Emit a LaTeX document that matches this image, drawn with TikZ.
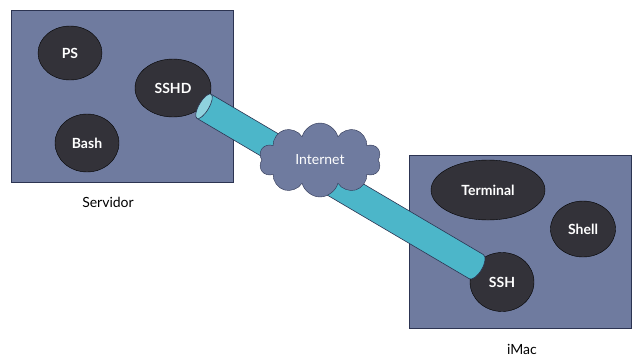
\documentclass[tikz,border=0pt]{standalone}
\usepackage{fontspec}
\setmainfont{Lato}
\usetikzlibrary{shapes}
\definecolor{hostblue}{RGB}{111,123,159}
\definecolor{procgray}{RGB}{51,50,57}
\definecolor{tubecyan}{RGB}{76,182,201}
\definecolor{tubecap}{RGB}{143,210,222}
\definecolor{edgenavy}{RGB}{44,52,82}

\begin{document}
\begin{tikzpicture}
  [x=1pt,y=-1pt,font=\fontsize{14}{16}\selectfont,
   host/.style={draw=edgenavy,fill=hostblue},
   proc/.style={ellipse,draw=black,fill=procgray,text=white,inner sep=0pt,font=\fontsize{14}{16}\selectfont\bfseries}]
  \useasboundingbox (0,0) rectangle (640,360);
  % the two machines
  \draw[host] (11,10) rectangle (233,182);
  \draw[host] (409,155) rectangle (631,328);
  \node (servidor) at (108,202) {Servidor};
  \node (imac) at (522,349) {iMac};
  % processes
  \node[proc,minimum width=64pt,minimum height=54pt] (ps) at (70,53) {PS};
  \node[proc,minimum width=76pt,minimum height=58pt] (sshd) at (173,88) {SSHD};
  \node[proc,minimum width=64pt,minimum height=58pt] (bash) at (87,143) {Bash};
  \node[proc,minimum width=114pt,minimum height=60pt] (terminal) at (488,190) {Terminal};
  \node[proc,minimum width=65pt,minimum height=56pt] (shell) at (583,229) {Shell};
  \node[proc,minimum width=64pt,minimum height=59pt] (ssh) at (502,282) {SSH};
  % tunnel from sshd to ssh
  \begin{scope}[shift={(sshd.center)},rotate=-30.5,draw=edgenavy,line width=.6pt]
    \draw[fill=tubecyan] (36,-14) -- (352,-14)
      arc[start angle=-90,end angle=90,x radius=6,y radius=14] -- (36,14) -- cycle;
    \draw[fill=tubecap] (36,0) ellipse[x radius=5,y radius=14];
  \end{scope}
  \node[cloud,draw=edgenavy,fill=hostblue,text=white,cloud puffs=10,aspect=1.7,
    minimum width=122pt,minimum height=74pt,inner sep=0pt] (internet) at (320,160) {Internet};
\end{tikzpicture}
\end{document}
